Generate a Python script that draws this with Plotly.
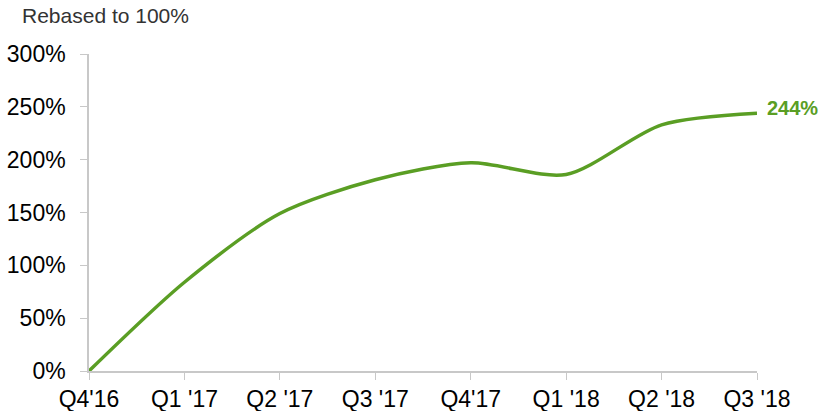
import plotly.graph_objects as go

quarters = ["Q4'16", "Q1 '17", "Q2 '17", "Q3 '17", "Q4'17", "Q1 '18", "Q2 '18", "Q3 '18"]
rebased = [0, 84, 149, 181, 197, 186, 233, 244]
y_ticks = [0, 50, 100, 150, 200, 250, 300]
y_labels = ["0%", "50%", "100%", "150%", "200%", "250%", "300%"]

GREEN = "#5a9e24"
AXIS = "#c8c8c8"
FONT = "Liberation Sans"

# plot area in pixels
L, R, T, B = 89, 64, 54, 40
W, H = 821, 411
pw, ph = W - L - R, H - T - B

fig = go.Figure()
fig.add_trace(go.Scatter(
    x=quarters, y=rebased, mode="lines",
    line=dict(color=GREEN, width=3.5, shape="spline", smoothing=0.8),
    hoverinfo="skip", showlegend=False,
))

fig.add_annotation(
    x=quarters[-1], y=rebased[-1], text="<b>%d%%</b>" % rebased[-1],
    showarrow=False, xanchor="left", xshift=8, yshift=5,
    font=dict(color=GREEN, size=20, family=FONT),
)
fig.add_annotation(
    x=(20 - L) / pw, y=1 + (T - 15) / ph, xref="paper", yref="paper",
    text="Rebased to 100%", showarrow=False, xanchor="left", yanchor="middle",
    font=dict(color="#333333", size=21, family=FONT),
)

fig.update_layout(
    width=W, height=H,
    margin=dict(l=L, r=R, t=T, b=B, autoexpand=False),
    plot_bgcolor="white", paper_bgcolor="white",
    font=dict(family=FONT, size=23, color="black"),
    xaxis=dict(
        range=[0, 7], showgrid=False, showline=True, linecolor=AXIS, linewidth=1.5,
        ticks="outside", ticklen=7, tickcolor=AXIS, zeroline=False, automargin=False,
        tickfont=dict(family=FONT, size=23, color="black"),
    ),
    yaxis=dict(
        range=[0, 300], tickmode="array", tickvals=y_ticks, ticktext=y_labels,
        showgrid=False, showline=True, linecolor=AXIS, linewidth=1.5,
        ticks="outside", ticklen=7, tickcolor=AXIS, zeroline=False, automargin=False,
        ticklabelstandoff=10,
        tickfont=dict(family=FONT, size=23, color="black"),
    ),
)

fig.write_html("out.html", config={"displayModeBar": False},
               post_script="document.body.style.margin='0';")
